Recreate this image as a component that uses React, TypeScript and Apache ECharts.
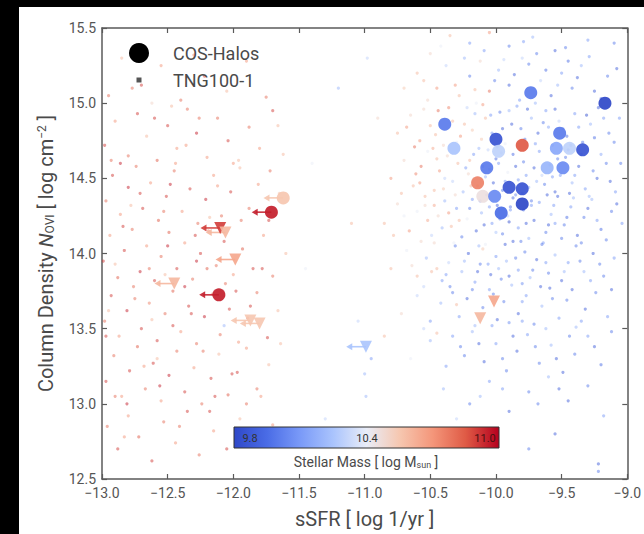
import React, { useEffect, useRef } from "react";
import * as echarts from "echarts";

// ---------------- data ----------------
// TNG100-1 galaxies: [log sSFR, log N_OVI, log M*]
const tngQuenched: number[][] = [
  [-12.95,15.05,10.8],[-12.85,15.3,10.6],[-12.7,15.12,10.9],[-12.55,15.25,10.7],[-12.4,15.02,10.8],[-12.22,15.18,10.9],[-12.05,15.08,10.6],[-11.9,15.28,10.7],[-11.75,15.04,10.8],[-12.62,15.0,10.5],[-12.3,15.32,10.75],
  [-12.98,14.72,10.9],[-12.9,14.88,10.7],[-12.8,14.65,10.8],[-12.73,14.93,10.9],[-12.66,14.78,10.6],[-12.58,14.62,10.85],[-12.5,14.85,10.9],[-12.43,14.7,10.7],[-12.35,14.96,10.8],[-12.28,14.8,10.95],[-12.2,14.64,10.7],[-12.12,14.9,10.8],[-12.04,14.75,10.9],[-11.96,14.62,10.6],[-11.88,14.84,10.8],[-11.8,14.7,10.7],[-11.7,14.95,10.9],[-11.62,14.66,10.6],[-12.86,14.6,10.95],[-12.47,14.98,10.6],
  [-12.97,14.35,10.8],[-12.92,14.52,10.9],[-12.86,14.26,10.7],[-12.8,14.44,10.95],[-12.74,14.58,10.8],[-12.69,14.3,10.9],[-12.63,14.47,10.7],[-12.57,14.22,10.85],[-12.51,14.38,10.9],[-12.45,14.55,10.8],[-12.39,14.28,10.7],[-12.33,14.43,10.9],[-12.27,14.2,10.8],[-12.21,14.36,10.95],[-12.15,14.52,10.7],[-12.09,14.25,10.8],[-12.02,14.41,10.9],[-11.95,14.57,10.6],[-11.88,14.3,10.8],[-11.81,14.46,10.7],[-11.73,14.22,10.9],[-11.65,14.4,10.55],[-12.78,14.32,10.6],[-12.48,14.46,10.95],[-12.18,14.24,10.6],
  [-12.99,13.95,10.9],[-12.94,14.12,10.7],[-12.88,13.84,10.85],[-12.83,14.02,10.9],[-12.77,14.16,10.8],[-12.71,13.88,10.95],[-12.66,14.05,10.7],[-12.6,13.82,10.9],[-12.55,13.98,10.8],[-12.49,14.14,10.85],[-12.43,13.9,10.9],[-12.37,14.07,10.7],[-12.31,13.83,10.8],[-12.25,14.0,10.9],[-12.19,14.15,10.75],[-12.13,13.92,10.8],[-12.07,14.08,10.9],[-12.0,13.86,10.7],[-11.93,14.03,10.85],[-11.85,13.9,10.9],[-11.77,14.12,10.7],[-11.7,13.85,10.8],[-11.6,14.0,10.6],[-12.9,13.93,10.6],[-12.52,13.86,10.6],[-12.28,13.95,10.95],
  [-12.98,13.55,10.8],[-12.93,13.72,10.9],[-12.87,13.45,10.7],[-12.81,13.62,10.95],[-12.76,13.78,10.8],[-12.7,13.5,10.9],[-12.64,13.67,10.75],[-12.58,13.42,10.9],[-12.52,13.6,10.8],[-12.46,13.75,10.85],[-12.4,13.48,10.7],[-12.34,13.65,10.9],[-12.28,13.4,10.8],[-12.22,13.58,10.95],[-12.16,13.73,10.7],[-12.1,13.46,10.8],[-12.03,13.63,10.9],[-11.96,13.41,10.7],[-11.89,13.57,10.85],[-11.82,13.74,10.8],[-11.74,13.44,10.9],[-11.66,13.62,10.6],[-12.95,13.62,10.6],[-12.62,13.56,10.6],[-12.37,13.78,10.95],[-12.07,13.52,10.2],
  [-12.97,13.15,10.9],[-12.91,13.32,10.8],[-12.85,13.05,10.7],[-12.79,13.22,10.9],[-12.73,13.38,10.85],[-12.67,13.1,10.8],[-12.61,13.27,10.9],[-12.55,13.02,10.7],[-12.49,13.19,10.95],[-12.43,13.35,10.8],[-12.37,13.08,10.9],[-12.3,13.24,10.7],[-12.24,13.0,10.8],[-12.17,13.17,10.9],[-12.11,13.33,10.6],[-12.04,13.06,10.85],[-11.97,13.21,10.9],[-11.9,13.37,10.7],[-11.82,13.1,10.8],[-11.73,13.26,10.6],[-12.81,13.0,10.95],[-12.58,13.3,10.6],
  [-12.96,12.85,10.8],[-12.88,12.7,10.9],[-12.8,12.92,10.7],[-12.72,12.78,10.85],[-12.62,12.62,10.9],[-12.53,12.88,10.8],[-12.44,12.74,10.7],[-12.35,12.95,10.9],[-12.26,12.66,10.8],[-12.15,12.82,10.7],[-12.05,12.7,10.9],[-11.95,12.9,10.6],[-11.85,12.75,10.8],[-11.7,12.86,10.7],
  [-12.93,14.62,10.8],[-12.84,14.18,10.9],[-12.75,13.7,10.8],[-12.68,13.25,10.7],[-12.6,14.9,10.9],[-12.53,14.28,10.8],[-12.46,13.52,10.9],[-12.41,12.85,10.8],[-12.36,14.72,10.7],[-12.29,14.12,10.9],[-12.23,13.35,10.8],[-12.18,12.95,10.9],[-12.12,14.45,10.7],[-12.06,13.8,10.8],[-12.01,13.2,10.9],[-11.94,14.22,10.8],[-11.87,13.65,10.9],[-11.79,13.05,10.7],[-11.72,14.55,10.8],[-11.64,13.4,10.6],[-12.97,13.45,10.9],[-12.9,13.05,10.8],[-12.83,12.78,10.7],[-12.71,14.4,10.9],[-12.64,13.9,10.8],[-12.56,13.12,10.95],[-12.44,14.6,10.7],[-12.32,13.6,10.9],[-12.26,14.9,10.8],[-12.14,13.05,10.9],[-12.0,14.6,10.7],[-11.9,13.0,10.8],[-11.78,13.9,10.9],[-11.66,14.85,10.6],[-12.77,15.1,10.8],[-12.5,14.05,10.95],[-12.2,13.9,10.85],[-11.98,13.75,10.9]
];

const tngGreenValley: number[][] = [
  [-11.4,14.6,10.4],[-11.2,15.1,10.2],[-11.05,13.55,10.3],[-11.0,13.2,10.2],[-10.99,13.05,10.2],[-10.95,13.3,10.1],[-11.3,12.9,10.3],[-10.85,13.45,10.6],[-10.9,14.9,10.5],[-11.1,14.2,10.6],[-10.98,15.3,10.3],[-11.45,13.9,10.4]
];

const tngStarForming: number[][] = [
  [-10.35,15.45,10.6],[-10.2,15.4,10.1],[-10.05,15.47,10.7],[-9.9,15.38,10.0],[-9.72,15.44,10.2],[-9.55,15.35,9.9],[-9.3,15.42,10.1],[-10.5,15.33,10.5],[-9.8,15.3,10.3],[-9.1,15.4,10.0],
  [-10.6,15.2,10.6],[-10.45,15.1,10.7],[-10.38,15.25,10.3],[-10.28,15.05,10.6],[-10.2,15.18,10.0],[-10.12,15.28,10.5],[-10.05,15.08,10.8],[-9.98,15.22,10.2],[-9.9,15.12,9.9],[-9.82,15.02,10.1],[-9.75,15.26,10.0],[-9.66,15.15,10.3],[-9.58,15.05,9.9],[-9.5,15.2,10.1],[-9.42,15.1,10.0],[-9.35,15.25,10.2],[-9.25,15.08,9.9],[-9.15,15.18,10.0],[-10.52,15.02,10.5],[-10.15,15.0,10.4],[-9.7,15.0,10.2],[-9.45,15.28,9.95],[-10.7,15.1,10.55],
  [-10.75,14.8,10.6],[-10.65,14.92,10.5],[-10.58,14.75,10.7],[-10.5,14.85,10.6],[-10.44,14.95,10.8],[-10.4,14.72,10.5],[-10.33,14.88,10.6],[-10.27,14.78,10.7],[-10.22,14.97,10.3],[-10.18,14.82,10.55],[-10.13,14.7,10.2],[-10.08,14.9,10.6],[-10.03,14.8,10.1],[-9.97,14.94,10.0],[-9.93,14.73,10.4],[-9.88,14.86,9.9],[-9.84,14.98,10.1],[-9.78,14.76,10.0],[-9.73,14.9,10.2],[-9.68,14.8,9.9],[-9.62,14.95,10.1],[-9.57,14.72,10.0],[-9.52,14.88,10.3],[-9.46,14.78,9.95],[-9.4,14.93,10.1],[-9.34,14.74,10.0],[-9.28,14.86,10.2],[-9.22,14.97,9.9],[-9.14,14.8,10.0],[-9.06,14.9,10.1],[-10.48,14.7,10.65],[-10.1,14.99,10.7],[-9.99,14.71,10.05],[-9.6,14.84,10.15],[-9.31,14.92,9.85],[-10.62,14.71,10.8],
  [-10.8,14.5,10.7],[-10.7,14.62,10.5],[-10.63,14.45,10.6],[-10.57,14.58,10.8],[-10.52,14.68,10.4],[-10.47,14.42,10.6],[-10.43,14.55,10.7],[-10.37,14.65,10.5],[-10.33,14.48,10.3],[-10.29,14.6,10.6],[-10.25,14.41,10.2],[-10.21,14.53,10.5],[-10.17,14.66,10.1],[-10.14,14.45,10.7],[-10.1,14.58,10.0],[-10.06,14.69,10.3],[-10.02,14.47,9.9],[-9.98,14.6,10.1],[-9.95,14.42,10.0],[-9.91,14.54,10.4],[-9.87,14.66,9.95],[-9.83,14.49,10.1],[-9.79,14.61,10.0],[-9.75,14.44,10.2],[-9.71,14.57,9.9],[-9.67,14.68,10.1],[-9.63,14.46,10.0],[-9.59,14.59,10.2],[-9.55,14.41,9.9],[-9.51,14.52,10.1],[-9.47,14.64,10.0],[-9.42,14.47,10.2],[-9.37,14.58,9.9],[-9.32,14.43,10.1],[-9.26,14.55,10.0],[-9.2,14.66,10.15],[-9.13,14.48,9.9],[-9.05,14.6,10.0],[-10.4,14.43,10.55],[-10.2,14.62,10.6],[-9.96,14.67,10.2],[-9.8,14.4,10.05],[-9.65,14.52,10.3],[-9.45,14.69,9.85],[-10.58,14.47,10.7],[-10.05,14.56,10.15],
  [-10.85,14.2,10.6],[-10.75,14.33,10.5],[-10.66,14.15,10.7],[-10.6,14.28,10.4],[-10.54,14.38,10.6],[-10.49,14.12,10.3],[-10.44,14.25,10.5],[-10.39,14.35,10.2],[-10.34,14.18,10.6],[-10.3,14.3,10.1],[-10.26,14.11,10.0],[-10.22,14.23,10.4],[-10.18,14.36,10.1],[-10.15,14.15,9.9],[-10.11,14.27,10.2],[-10.07,14.39,10.0],[-10.03,14.2,10.1],[-9.99,14.32,9.9],[-9.95,14.13,10.0],[-9.91,14.25,10.3],[-9.87,14.37,9.95],[-9.83,14.17,10.1],[-9.79,14.29,10.0],[-9.75,14.1,10.2],[-9.71,14.22,9.9],[-9.67,14.34,10.1],[-9.62,14.14,10.0],[-9.58,14.26,10.2],[-9.53,14.38,9.9],[-9.48,14.19,10.0],[-9.43,14.31,10.1],[-9.38,14.12,9.9],[-9.33,14.24,10.0],[-9.27,14.36,10.2],[-9.2,14.16,9.95],[-9.12,14.28,10.0],[-9.04,14.2,10.1],[-10.52,14.22,10.65],[-10.0,14.14,10.25],[-9.85,14.39,10.05],[-9.55,14.2,10.1],[-10.36,14.27,10.7],[-9.9,14.21,9.85],
  [-10.8,13.9,10.6],[-10.68,14.02,10.4],[-10.6,13.85,10.6],[-10.53,13.97,10.2],[-10.47,14.07,10.5],[-10.41,13.82,10.1],[-10.36,13.94,10.3],[-10.31,14.05,10.0],[-10.26,13.88,10.2],[-10.21,14.0,9.9],[-10.16,13.81,10.1],[-10.12,13.93,10.0],[-10.08,14.06,10.4],[-10.04,13.86,9.9],[-10.0,13.98,10.1],[-9.96,13.83,10.0],[-9.92,13.95,10.2],[-9.87,14.08,9.9],[-9.83,13.89,10.1],[-9.78,14.01,10.0],[-9.74,13.84,10.2],[-9.69,13.96,9.9],[-9.64,14.07,10.1],[-9.6,13.87,10.0],[-9.55,13.99,10.2],[-9.5,13.82,9.9],[-9.45,13.94,10.1],[-9.39,14.05,10.0],[-9.33,13.88,10.2],[-9.26,14.0,9.9],[-9.18,13.85,10.0],[-9.1,13.97,10.1],[-10.45,13.9,10.6],[-10.1,14.03,10.55],[-9.8,13.8,10.05],
  [-10.72,13.6,10.5],[-10.6,13.72,10.3],[-10.5,13.55,10.1],[-10.42,13.67,10.2],[-10.35,13.78,10.0],[-10.28,13.58,10.1],[-10.22,13.7,9.9],[-10.16,13.52,10.2],[-10.1,13.64,10.0],[-10.05,13.76,10.1],[-9.99,13.56,9.9],[-9.94,13.68,10.0],[-9.88,13.79,10.2],[-9.83,13.6,9.9],[-9.77,13.72,10.1],[-9.71,13.53,10.0],[-9.65,13.65,10.2],[-9.59,13.77,9.9],[-9.52,13.57,10.1],[-9.46,13.69,10.0],[-9.39,13.51,10.2],[-9.32,13.63,9.9],[-9.24,13.74,10.0],[-9.15,13.58,10.1],[-10.3,13.66,10.6],[-9.9,13.54,10.05],
  [-10.65,13.3,10.4],[-10.5,13.42,10.2],[-10.38,13.25,10.1],[-10.27,13.38,10.0],[-10.18,13.48,10.2],[-10.09,13.28,9.9],[-10.0,13.4,10.1],[-9.92,13.22,10.0],[-9.84,13.35,9.9],[-9.76,13.46,10.1],[-9.67,13.27,10.0],[-9.58,13.39,10.2],[-9.49,13.21,9.9],[-9.4,13.33,10.0],[-9.3,13.45,10.1],[-9.2,13.26,9.95],[-10.45,13.47,10.6],
  [-10.4,13.1,10.2],[-10.2,13.0,10.0],[-10.05,13.15,10.1],[-9.9,12.95,9.9],[-9.75,13.08,10.0],[-9.6,13.18,10.2],[-9.45,13.02,9.9],[-9.3,13.12,10.0],[-9.18,12.92,10.1],[-10.3,12.9,10.3],
  [-9.75,12.7,10.0],[-9.55,12.8,9.9],[-9.22,12.55,10.0],[-9.22,12.6,9.9],[-10.15,12.75,10.1]
];

const tngStarFormingExtra: number[][] = [
  [-10.55,15.15,10.6],[-10.42,15.38,10.4],[-10.31,15.12,10.7],[-10.24,15.3,10.2],[-10.16,15.09,10.6],[-10.09,15.35,10.1],[-10.01,15.15,10.0],[-9.94,15.29,10.3],[-9.86,15.19,9.9],[-9.79,15.41,10.1],[-9.69,15.33,10.0],[-9.62,15.22,9.95],[-9.53,15.12,10.2],[-9.47,15.37,10.0],[-9.38,15.17,9.9],[-9.29,15.31,10.1],[-9.2,15.03,10.0],[-9.08,15.23,9.9],
  [-10.68,14.84,10.7],[-10.55,14.96,10.5],[-10.46,14.79,10.6],[-10.36,14.97,10.75],[-10.3,14.74,10.4],[-10.24,14.86,10.6],[-10.16,14.93,10.2],[-10.11,14.76,10.55],[-10.04,14.92,10.1],[-9.95,14.83,9.9],[-9.9,14.95,10.2],[-9.81,14.83,10.0],[-9.76,14.96,9.9],[-9.7,14.73,10.1],[-9.64,14.87,10.0],[-9.55,14.96,9.9],[-9.49,14.83,10.2],[-9.43,14.72,10.0],[-9.37,14.84,10.1],[-9.25,14.77,9.95],[-9.18,14.9,10.1],[-9.1,14.74,10.0],
  [-10.72,14.4,10.6],[-10.61,14.53,10.75],[-10.54,14.32,10.5],[-10.45,14.63,10.6],[-10.39,14.5,10.3],[-10.31,14.39,10.5],[-10.23,14.57,10.1],[-10.19,14.45,10.6],[-10.12,14.35,10.0],[-10.08,14.51,10.2],[-10.0,14.63,9.95],[-9.93,14.48,10.1],[-9.89,14.31,10.0],[-9.85,14.58,9.9],[-9.77,14.52,10.1],[-9.73,14.35,10.0],[-9.69,14.48,10.2],[-9.61,14.39,9.9],[-9.57,14.51,10.1],[-9.53,14.63,10.0],[-9.44,14.4,9.9],[-9.4,14.52,10.1],[-9.35,14.66,10.0],[-9.29,14.38,10.2],[-9.23,14.5,9.9],[-9.16,14.6,10.0],[-9.09,14.41,10.1],
  [-10.78,14.12,10.6],[-10.7,14.25,10.4],[-10.57,14.08,10.5],[-10.47,14.32,10.65],[-10.41,14.17,10.2],[-10.32,14.07,10.4],[-10.28,14.22,10.6],[-10.2,14.3,10.0],[-10.13,14.05,10.2],[-10.09,14.19,9.9],[-10.05,14.31,10.1],[-9.97,14.23,10.0],[-9.93,14.06,9.9],[-9.89,14.29,10.1],[-9.81,14.08,10.0],[-9.77,14.2,9.9],[-9.73,14.32,10.1],[-9.65,14.06,10.0],[-9.6,14.19,9.9],[-9.56,14.32,10.1],[-9.5,14.1,10.0],[-9.46,14.24,9.95],[-9.41,14.37,10.2],[-9.35,14.07,10.0],[-9.3,14.3,9.9],[-9.23,14.22,10.1],[-9.16,14.09,10.0],[-9.08,14.33,9.9],
  [-10.64,13.92,10.5],[-10.55,13.78,10.3],[-10.49,13.88,10.6],[-10.38,13.86,10.1],[-10.33,13.74,10.0],[-10.24,13.95,10.2],[-10.18,13.76,10.0],[-10.14,13.88,9.9],[-10.06,13.93,10.1],[-10.02,13.73,10.0],[-9.98,13.9,10.2],[-9.9,13.85,9.9],[-9.85,13.97,10.0],[-9.8,13.68,10.1],[-9.72,13.89,10.0],[-9.66,13.78,9.9],[-9.62,13.94,10.1],[-9.57,13.7,10.0],[-9.48,13.88,10.2],[-9.42,13.76,9.9],[-9.36,13.95,10.0],[-9.28,13.82,10.1],[-9.21,13.93,10.0],[-9.12,13.76,9.9],
  [-10.55,13.5,10.3],[-10.33,13.45,10.1],[-10.24,13.32,10.0],[-10.13,13.4,9.9],[-10.03,13.52,10.1],[-9.95,13.3,10.0],[-9.87,13.45,9.9],[-9.8,13.55,10.1],[-9.7,13.38,10.0],[-9.62,13.5,10.2],[-9.54,13.3,9.9],[-9.44,13.45,10.0],[-9.35,13.55,10.1],[-9.25,13.38,9.9],[-9.12,13.48,10.0],[-9.95,13.1,10.1],[-9.68,13.0,10.0],[-9.52,13.1,9.9],[-10.12,13.05,10.2]
];

// COS-Halos: detections (circles)
const cosDetections: number[][] = [
  [-9.735,15.07,10.0],[-9.17,15.0,9.8],[-10.39,14.86,10.0],[-9.515,14.8,10.0],[-10.0,14.76,9.85],
  [-9.8,14.72,10.85],[-10.32,14.7,10.25],[-9.54,14.7,10.15],[-9.44,14.7,10.3],[-9.34,14.69,9.85],
  [-9.98,14.68,10.3],[-10.07,14.57,10.0],[-9.61,14.57,10.2],[-9.49,14.57,10.05],[-10.14,14.47,10.75],
  [-9.9,14.44,9.85],[-9.8,14.43,9.85],[-10.1,14.38,10.45],[-10.01,14.38,10.05],[-9.8,14.33,9.8],
  [-9.96,14.27,9.95]
];
// COS-Halos: circles with sSFR upper limits
const cosSsfrLimitCircles: number[][] = [
  [-11.71,14.275,10.95],[-12.11,13.725,10.95],[-11.62,14.37,10.55]
];
// COS-Halos: N_OVI upper limits (triangles) that also carry sSFR upper limits
const cosLimitTrianglesArrow: number[][] = [
  [-12.1,14.17,10.9],[-12.06,14.14,10.6],[-11.985,13.96,10.65],[-12.45,13.8,10.6],
  [-11.87,13.555,10.55],[-11.8,13.535,10.55],[-10.99,13.38,10.25]
];
// COS-Halos: N_OVI upper limits without sSFR limit
const cosLimitTriangles: number[][] = [
  [-10.12,13.57,10.6],[-10.015,13.68,10.65]
];

const xTicksMin = -13.0;
const xTicksMax = -9.0;
const yTicksMin = 12.5;
const yTicksMax = 15.5;
const massMin = 9.8;
const massMax = 11.0;
const colorbarLabels = ["9.8", "10.4", "11.0"];

const coolwarm = [
  "#2f48c8", "#4a6ce6", "#7a9af8", "#aac4fd", "#e9edf8",
  "#f6c7b0", "#f4967a", "#df5a45", "#b5001e"
];

const FONT = "Roboto, 'DejaVu Sans', sans-serif";
const TEXT = "#4a4a4a";
const AXIS = "#5a5a5a";

export default function App() {
  const ref = useRef<HTMLDivElement>(null);
  useEffect(() => {
    if (!ref.current) return;
    const chart = echarts.init(ref.current, null, { renderer: "svg" });
    const fmtX = (v: number) => (v < 0 ? "\u2212" : "") + Math.abs(v).toFixed(1);
    const axisCommon = {
      axisLine: { show: true, lineStyle: { color: AXIS, width: 1.5 } },
      axisTick: { show: true, inside: true, length: 5, lineStyle: { color: AXIS, width: 1.2 } },
      splitLine: { show: false },
    };
    const arrowData = cosSsfrLimitCircles.concat(cosLimitTrianglesArrow);
    const option: any = {
      animation: false,
      backgroundColor: "#ffffff",
      grid: { left: 83, right: 13, top: 21, bottom: 55 },
      xAxis: [
        {
          type: "value", min: xTicksMin, max: xTicksMax, interval: 0.5, position: "bottom",
          ...axisCommon,
          axisLabel: { color: "#555", fontSize: 14, fontFamily: FONT, margin: 7, formatter: fmtX },
          name: "sSFR [ log 1/yr ]", nameLocation: "middle", nameGap: 30,
          nameTextStyle: { color: TEXT, fontSize: 20, fontFamily: FONT },
        },
        {
          type: "value", min: xTicksMin, max: xTicksMax, interval: 0.5, position: "top",
          ...axisCommon, axisLabel: { show: false },
        },
      ],
      yAxis: [
        {
          type: "value", min: yTicksMin, max: yTicksMax, interval: 0.5, position: "left",
          ...axisCommon,
          axisLabel: { color: "#555", fontSize: 14, fontFamily: FONT, margin: 6, formatter: (v: number) => v.toFixed(1) },
          name: "Column Density {i|N}{sub|OVI} [ log cm{sup|\u22122} ]",
          nameLocation: "middle", nameGap: 46, nameRotate: 90,
          nameTextStyle: {
            color: TEXT, fontSize: 20, fontFamily: FONT,
            rich: {
              i: { fontSize: 20, fontStyle: "italic", color: TEXT, fontFamily: FONT },
              sub: { fontSize: 12, color: TEXT, fontFamily: FONT, verticalAlign: "bottom", padding: [8, 0, 0, 0] },
              sup: { fontSize: 12, color: TEXT, fontFamily: FONT, verticalAlign: "top", padding: [0, 0, 8, 0] },
            },
          },
        },
        {
          type: "value", min: yTicksMin, max: yTicksMax, interval: 0.5, position: "right",
          ...axisCommon, axisLabel: { show: false },
        },
      ],
      visualMap: {
        type: "continuous", show: false, min: massMin, max: massMax, dimension: 2,
        seriesIndex: [0, 1, 2, 3],
        inRange: { color: coolwarm },
      },
      series: [
        {
          type: "scatter", name: "TNG100-1",
          data: tngQuenched.concat(tngGreenValley, tngStarForming, tngStarFormingExtra),
          symbol: "circle", symbolSize: 3.2,
          itemStyle: { opacity: 0.5 },
          z: 2,
        },
        {
          type: "custom", name: "limits",
          data: arrowData,
          encode: { x: 0, y: 1 },
          z: 3,
          renderItem: (params: any, api: any) => {
            const p = api.coord([api.value(0), api.value(1)]);
            const q = api.coord([api.value(0) - 0.15, api.value(1)]);
            const c = api.visual("color");
            return {
              type: "group",
              children: [
                { type: "line", shape: { x1: p[0], y1: p[1], x2: q[0] + 4, y2: q[1] }, style: { stroke: c, lineWidth: 1.6, opacity: 0.9 } },
                { type: "polygon", shape: { points: [[q[0], q[1]], [q[0] + 6, q[1] - 3.5], [q[0] + 6, q[1] + 3.5]] }, style: { fill: c, opacity: 0.9 } },
              ],
            };
          },
        },
        {
          type: "scatter", name: "COS-Halos",
          data: cosDetections.concat(cosSsfrLimitCircles),
          symbol: "circle", symbolSize: 13,
          itemStyle: { opacity: 0.92 },
          z: 4,
        },
        {
          type: "scatter", name: "COS-Halos limits",
          data: cosLimitTrianglesArrow.concat(cosLimitTriangles),
          symbol: "triangle", symbolRotate: 180, symbolSize: 12,
          itemStyle: { opacity: 0.9 },
          z: 4,
        },
      ],
      graphic: [
        { type: "circle", shape: { cx: 120, cy: 46, r: 10 }, style: { fill: "#000" }, z: 10 },
        { type: "text", x: 154, y: 46, style: { text: "COS-Halos", fill: TEXT, font: `18px ${FONT}`, verticalAlign: "middle" }, z: 10 },
        { type: "rect", shape: { x: 117.5, y: 70.5, width: 5, height: 5 }, style: { fill: "#555" }, z: 10 },
        { type: "text", x: 154, y: 73, style: { text: "TNG100-1", fill: TEXT, font: `18px ${FONT}`, verticalAlign: "middle" }, z: 10 },
        {
          type: "rect", shape: { x: 215, y: 420, width: 265, height: 21 }, z: 10,
          style: {
            stroke: "#333", lineWidth: 1,
            fill: new echarts.graphic.LinearGradient(0, 0, 1, 0,
              coolwarm.map((c, i) => ({ offset: i / (coolwarm.length - 1), color: c }))),
          },
        },
        { type: "text", x: 231, y: 431, style: { text: colorbarLabels[0], fill: "#333", font: `11px ${FONT}`, align: "center", verticalAlign: "middle" }, z: 11 },
        { type: "text", x: 348, y: 431, style: { text: colorbarLabels[1], fill: "#333", font: `11px ${FONT}`, align: "center", verticalAlign: "middle" }, z: 11 },
        { type: "text", x: 466, y: 431, style: { text: colorbarLabels[2], fill: "#4a1010", font: `11px ${FONT}`, align: "center", verticalAlign: "middle" }, z: 11 },
        {
          type: "text", x: 347, y: 455, z: 11,
          style: {
            text: "Stellar Mass [ log M{s|sun} ]",
            fill: TEXT, font: `14px ${FONT}`, align: "center", verticalAlign: "middle",
            rich: { s: { fontSize: 9, fill: TEXT, fontFamily: FONT, verticalAlign: "bottom", padding: [5, 0, 0, 0] } },
          } as any,
        },
      ],
    };
    chart.setOption(option);
    return () => chart.dispose();
  }, []);
  return (
    <div style={{ position: "fixed", left: 0, top: 0, width: 644, height: 534, background: "#000" }}>
      <div ref={ref} style={{ position: "absolute", left: 19, top: 7, width: 625, height: 527, background: "#fff" }} />
    </div>
  );
}
